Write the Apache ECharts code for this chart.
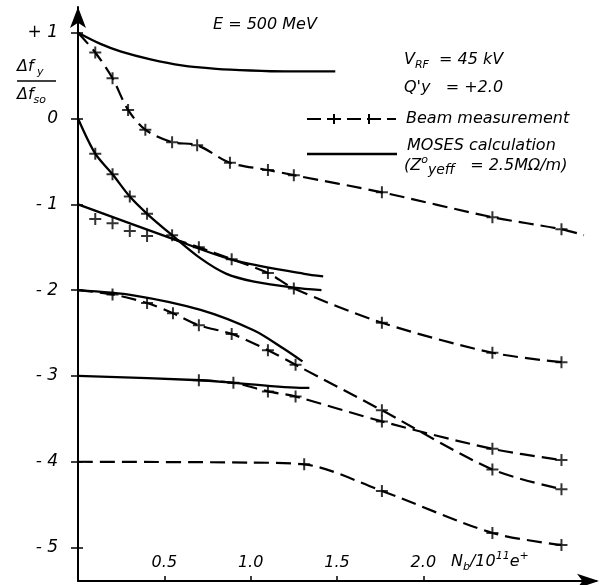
<!DOCTYPE html>
<html><head><meta charset="utf-8">
<script src="https://cdn.jsdelivr.net/npm/echarts@6/dist/echarts.min.js"></script>
<style>html,body{margin:0;padding:0;background:#fff}#c{width:608px;height:585px}</style>
</head><body><div id="c"></div>
<script>
// tick labels
const yTicks = [-5, -4, -3, -2, -1, 0, 1];
const xTicks = [0.5, 1.0, 1.5, 2.0];

// MOSES calculation (solid curves)
const calcTop = [[0,1.0],[0.13,0.87],[0.25,0.78],[0.42,0.69],[0.6,0.62],[0.8,0.58],[1.0,0.56],[1.2,0.55],[1.49,0.55]];
const calc0 = [[0,0],[0.1,-0.41],[0.2,-0.65],[0.3,-0.91],[0.4,-1.11],[0.545,-1.36],[0.71,-1.63],[0.86,-1.81],[1.02,-1.90],[1.25,-1.97],[1.41,-2.0]];
const calc1 = [[0,-1],[0.545,-1.40],[0.9,-1.65],[1.31,-1.81],[1.42,-1.84]];
const calc2 = [[0,-2],[0.32,-2.06],[0.71,-2.23],[1.02,-2.47],[1.19,-2.68],[1.30,-2.83]];
const calc3 = [[0,-3],[0.71,-3.05],[0.9,-3.08],[1.31,-3.14],[1.34,-3.14]];

// Beam measurement (marker points)
const measTop = [[0.1,0.77],[0.2,0.47],[0.29,0.10],[0.39,-0.13],[0.545,-0.275],[0.69,-0.31],[0.88,-0.515],[1.1,-0.60],[1.25,-0.66],[1.76,-0.86],[2.4,-1.15],[2.8,-1.29]];
const meas0 = [[0.1,-0.41],[0.2,-0.65],[0.3,-0.91],[0.4,-1.11],[0.545,-1.36]];
const meas1a = [[0.1,-1.17],[0.2,-1.22],[0.3,-1.31],[0.4,-1.37]];
const meas1 = [[0.7,-1.50],[0.89,-1.64],[1.1,-1.80],[1.25,-1.98],[1.76,-2.38],[2.4,-2.73],[2.8,-2.84]];
const meas2 = [[0.2,-2.05],[0.4,-2.15],[0.55,-2.27],[0.7,-2.41],[0.89,-2.51],[1.1,-2.70],[1.26,-2.87],[1.76,-3.40],[2.4,-4.09],[2.8,-4.32]];
const meas3 = [[0.7,-3.05],[0.9,-3.08],[1.1,-3.18],[1.26,-3.24],[1.76,-3.53],[2.4,-3.85],[2.8,-3.98]];
const meas4 = [[1.31,-4.03],[1.76,-4.34],[2.4,-4.83],[2.8,-4.97]];

const lineTop = [[0,1.0], ...measTop, [2.93,-1.36]];
const line1 = [[0.545,-1.40], ...meas1];
const line2 = [[0,-2], ...meas2];
const line3 = [...meas3];
const line4 = [[0,-4],[1.0,-4.01], ...meas4];

const PLUS = 'path://M-1,-6H1V-1H6V1H1V6H-1V1H-6V-1H-1Z';
const FF = 'DejaVu Sans';

function solid(d){ return {type:'line', data:d, smooth:0.3, symbol:'none', lineStyle:{color:'#000', width:2.3}, z:3, silent:true}; }
function dashed(d){ return {type:'line', data:d, smooth:0.3, symbol:'none', lineStyle:{color:'#000', width:2.2, type:[15,7]}, z:2, silent:true}; }
function marks(d){ return {type:'scatter', data:d, symbol:PLUS, symbolSize:12, itemStyle:{color:'#000'}, z:4, silent:true}; }

const rich = {
  m:{fontSize:16, fontStyle:'italic', fontFamily:FF, color:'#000', lineHeight:22},
  s:{fontSize:11, fontStyle:'italic', fontFamily:FF, color:'#000', lineHeight:12, verticalAlign:'bottom'},
  s2:{fontSize:14, fontStyle:'italic', fontFamily:FF, color:'#000', lineHeight:18, verticalAlign:'bottom'},
  sup:{fontSize:11, fontStyle:'italic', fontFamily:FF, color:'#000', lineHeight:10, verticalAlign:'top'}
};
function txt(x, y, t){ return {type:'text', x:x, y:y, style:{text:t, rich:rich, verticalAlign:'middle', align:'left'}}; }

const chart = echarts.init(document.getElementById('c'));
chart.setOption({
  animation:false,
  backgroundColor:'#fff',
  grid:{left:78, right:12, top:7, bottom:4},
  xAxis:{type:'value', min:0, max:3,
    axisLine:{show:true, onZero:false, symbol:['none','arrow'], symbolSize:[11,22], symbolOffset:[0,3], lineStyle:{color:'#000', width:2}},
    axisTick:{show:true, inside:true, length:5, customValues:xTicks, lineStyle:{color:'#000', width:1.5}},
    axisLabel:{inside:true, margin:10, customValues:xTicks, formatter:v=>v.toFixed(1), color:'#000', fontSize:16, fontStyle:'italic', fontFamily:FF},
    splitLine:{show:false}},
  yAxis:[
    {type:'value', min:-5.39, max:1.30,
      axisLine:{show:true, onZero:false, symbol:['none','arrow'], symbolSize:[12,21], symbolOffset:[0,0], lineStyle:{color:'#000', width:2}},
      axisTick:{show:true, length:7, customValues:yTicks, lineStyle:{color:'#000', width:1.5}},
      axisLabel:{margin:20, customValues:yTicks, color:'#000', fontSize:17, fontStyle:'italic', fontFamily:FF,
        formatter:v=> v>0 ? '+ '+v : (v<0 ? '- '+(-v) : '0')},
      splitLine:{show:false}},
    {type:'value', min:-5.39, max:1.30, position:'left',
      axisLine:{show:false}, axisLabel:{show:false}, splitLine:{show:false},
      axisTick:{show:true, inside:true, length:5, customValues:yTicks, lineStyle:{color:'#000', width:1.5}}}
  ],
  series:[
    solid(calcTop), solid(calc0), solid(calc1), solid(calc2), solid(calc3),
    dashed(lineTop), dashed(line1), dashed(line2), dashed(line3), dashed(line4),
    marks(measTop), marks(meas0), marks(meas1a), marks(meas1), marks(meas2), marks(meas3), marks(meas4)
  ],
  graphic:[
    txt(213, 25, '{m|E = 500 MeV}'),
    txt(404, 60, '{m|V}{s|RF}{m|  = 45 kV}'),
    txt(404, 88, "{m|Q'y   = +2.0}"),
    txt(406, 119, '{m|Beam measurement}'),
    txt(407, 146, '{m|MOSES calculation}'),
    txt(404, 166, '{m|(Z}{sup|o}{s2|yeff}{m|   = 2.5MΩ/m)}'),
    txt(17, 67, '{m|Δf}{s| y}'),
    txt(17, 95, '{m|Δf}{s|so}'),
    {type:'line', shape:{x1:17, y1:81, x2:56, y2:81}, style:{stroke:'#000', lineWidth:1.5}},
    txt(451, 562, '{m|N}{s|b}{m|/10}{sup|11}{m|e}{sup|+}'),
    {type:'line', shape:{x1:307, y1:119, x2:396, y2:119}, style:{stroke:'#000', lineWidth:2.2, lineDash:[14,6]}},
    {type:'line', shape:{x1:334, y1:114, x2:334, y2:124}, style:{stroke:'#000', lineWidth:2}},
    {type:'line', shape:{x1:369, y1:114, x2:369, y2:124}, style:{stroke:'#000', lineWidth:2}},
    {type:'line', shape:{x1:307, y1:154, x2:397, y2:154}, style:{stroke:'#000', lineWidth:2.3}}
  ]
});
</script></body></html>
